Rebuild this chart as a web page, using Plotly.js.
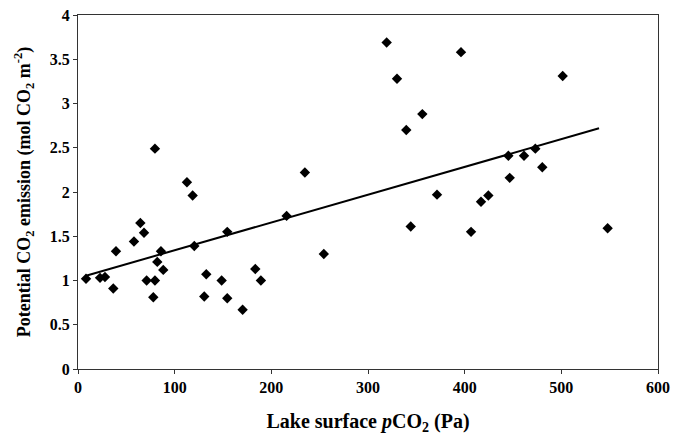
<!DOCTYPE html>
<html>
<head>
<meta charset="utf-8">
<script src="https://cdn.plot.ly/plotly-3.0.1.min.js"></script>
<style>html,body{margin:0;padding:0;background:#fff;}#chart{width:676px;height:435px;}</style>
</head>
<body>
<div id="chart"></div>
<script>
// Lake surface pCO2 (Pa)
const pco2 = [8.3, 22.8, 27.9, 36.5, 39.3, 57.9, 64.5, 68.3, 71.0, 79.6, 77.9, 82.0, 85.8, 88.2, 79.6,
  112.7, 118.6, 120.3, 132.7, 130.6, 148.6, 154.4, 154.4, 170.3, 183.4, 189.2, 215.8, 234.7, 254.3,
  319.3, 330.0, 339.6, 344.2, 356.2, 371.4, 396.2, 406.6, 416.9, 424.5, 445.2, 446.6, 461.4, 473.1,
  480.3, 501.4, 547.9];
// Potential CO2 emission (mol CO2 m-2)
const emission = [1.02, 1.03, 1.04, 0.91, 1.33, 1.44, 1.65, 1.54, 1.00, 1.00, 0.81, 1.21, 1.33, 1.12, 2.49,
  2.11, 1.96, 1.39, 1.07, 0.82, 1.00, 1.55, 0.80, 0.67, 1.13, 1.00, 1.73, 2.22, 1.30,
  3.69, 3.28, 2.70, 1.61, 2.88, 1.97, 3.58, 1.55, 1.89, 1.96, 2.41, 2.16, 2.41, 2.49,
  2.28, 3.31, 1.59];
// Linear trend line endpoints
const trendX = [8.3, 539];
const trendY = [1.054, 2.72];
const xTicks = [0, 100, 200, 300, 400, 500, 600];
const yTicks = [0, 0.5, 1, 1.5, 2, 2.5, 3, 3.5, 4];

const font = {family: '"Liberation Serif", "Times New Roman", serif', color: '#000'};

const data = [
  {x: trendX, y: trendY, type: 'scatter', mode: 'lines', line: {color: '#000', width: 2}, hoverinfo: 'skip'},
  {x: pco2, y: emission, type: 'scatter', mode: 'markers',
   marker: {symbol: 'diamond', size: 8, color: '#000', line: {width: 0}}}
];

const layout = {
  width: 676, height: 435,
  margin: {l: 78, r: 18, t: 15, b: 66},
  paper_bgcolor: '#fff', plot_bgcolor: '#fff',
  showlegend: false,
  font: Object.assign({size: 16}, font),
  xaxis: {
    range: [0, 600], tickvals: xTicks, ticktext: xTicks.map(v => '<b>' + v + '</b>'),
    showgrid: false, zeroline: false,
    showline: true, linecolor: '#333', linewidth: 1, mirror: true,
    ticks: 'outside', ticklen: 4, tickcolor: '#333',
    tickfont: Object.assign({size: 16, weight: 'bold'}, font),
    title: {text: '<b>Lake surface <i>p</i>CO<sub>2</sub> (Pa)</b>', font: Object.assign({size: 20}, font), standoff: 21}
  },
  yaxis: {
    range: [0, 4], tickvals: yTicks, ticktext: yTicks.map(v => '<b>' + v + '</b>'),
    showgrid: false, zeroline: false,
    showline: true, linecolor: '#333', linewidth: 1, mirror: true,
    ticks: 'outside', ticklen: 4, tickcolor: '#333',
    tickfont: Object.assign({size: 16, weight: 'bold'}, font),
    title: {text: '<b>Potential CO<sub>2</sub> emission (mol CO<sub>2</sub> m<sup>-2</sup>)</b>', font: Object.assign({size: 18}, font), standoff: 14}
  }
};

Plotly.newPlot('chart', data, layout, {displayModeBar: false, staticPlot: true});
</script>
</body>
</html>
